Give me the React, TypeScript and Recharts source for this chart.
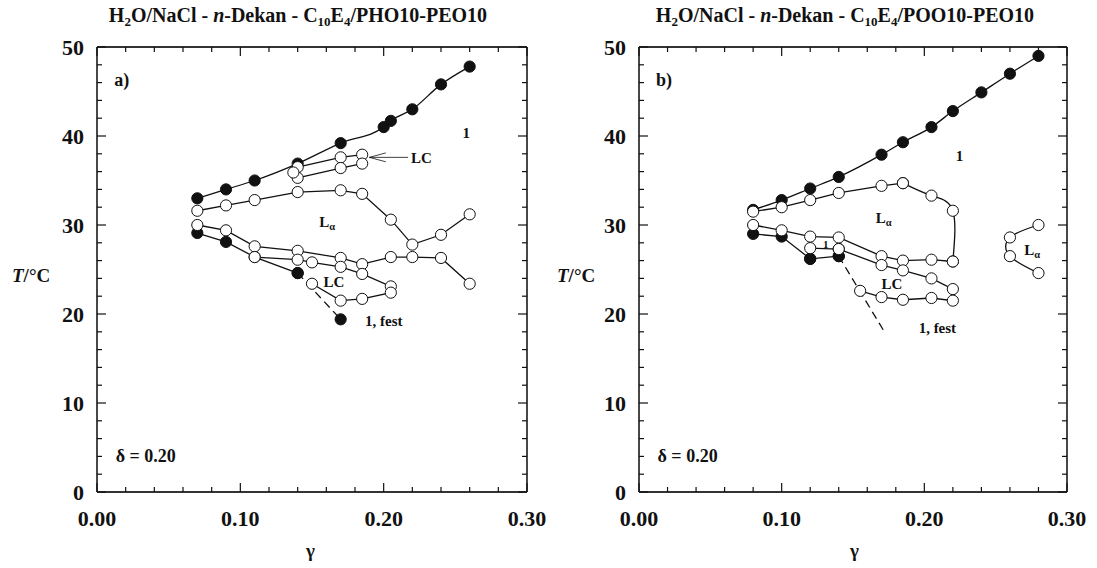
import React from "react";
import { ComposedChart, Line, Scatter, XAxis, YAxis } from "recharts";

const INK = "#111";
const FONT = '"Liberation Serif", "Times New Roman", serif';

const xTicks = [0, 0.02, 0.04, 0.06, 0.08, 0.1, 0.12, 0.14, 0.16, 0.18, 0.2, 0.22, 0.24, 0.26, 0.28, 0.3];
const yTicks = [0, 2, 4, 6, 8, 10, 12, 14, 16, 18, 20, 22, 24, 26, 28, 30, 32, 34, 36, 38, 40, 42, 44, 46, 48, 50];

// point = [gamma, T, marker]  marker: 1 filled, 0 open, -1 none
type P = [number, number, number];

// ---- panel a) PHO10-PEO10
const aOneBoundary: P[] = [
  [0.07, 33.0, 1], [0.09, 34.0, 1], [0.11, 35.0, 1], [0.14, 36.9, 1], [0.17, 39.2, 1],
  [0.2, 41.0, 1], [0.205, 41.7, 1], [0.22, 43.0, 1], [0.24, 45.8, 1], [0.26, 47.8, 1],
];
const aLcTop: P[] = [[0.14, 36.5, 0], [0.17, 37.6, 0], [0.185, 37.9, 0]];
const aLcBottom: P[] = [[0.14, 35.3, 0], [0.17, 36.4, 0], [0.185, 36.9, 0]];
const aLcExtra: P[] = [[0.137, 35.9, 0]];
const aLaTop: P[] = [
  [0.07, 31.6, 0], [0.09, 32.2, 0], [0.11, 32.8, 0], [0.14, 33.7, 0], [0.17, 33.9, 0],
  [0.185, 33.5, 0], [0.205, 30.6, 0], [0.22, 27.8, 0], [0.24, 28.9, 0], [0.26, 31.2, 0],
];
const aLaBottom: P[] = [
  [0.07, 30.0, 0], [0.09, 29.4, 0], [0.11, 27.6, 0], [0.14, 27.1, 0], [0.17, 26.3, 0],
  [0.185, 25.6, 0], [0.205, 26.4, 0], [0.22, 26.4, 0], [0.24, 26.3, 0], [0.26, 23.4, 0],
];
const aSolidLower: P[] = [[0.07, 29.1, 1], [0.09, 28.1, 1], [0.11, 26.4, 0], [0.14, 24.6, 1]];
const aLcLoop: P[] = [
  [0.11, 26.4, 0], [0.14, 26.1, 0], [0.15, 25.8, 0], [0.17, 25.3, 0], [0.185, 24.5, 0],
  [0.205, 23.1, 0], [0.205, 22.4, 0], [0.185, 21.7, 0], [0.17, 21.5, 0], [0.15, 23.4, 0],
];
const aFreeze: P[] = [[0.14, 24.6, 1], [0.17, 19.4, 1]];
const aArrowShaft: P[] = [[0.19, 37.6, -1], [0.217, 37.6, -1]];
const aArrowHead: P[] = [[0.2015, 38.1, -1], [0.19, 37.6, -1], [0.2015, 37.1, -1]];
const aLabels: [number, number, string][] = [
  [0.012, 46.3, "a)"], [0.255, 40.3, "1"], [0.219, 37.5, "LC"], [0.155, 30.3, "Lα"],
  [0.158, 23.6, "LC"], [0.187, 19.2, "1, fest"], [0.013, 4.0, "δ = 0.20"],
];

// ---- panel b) POO10-PEO10
const bOneBoundary: P[] = [
  [0.08, 31.7, 1], [0.1, 32.8, 1], [0.12, 34.1, 1], [0.14, 35.4, 1], [0.17, 37.9, 1], [0.185, 39.3, 1],
  [0.205, 41.0, 1], [0.22, 42.8, 1], [0.24, 44.9, 1], [0.26, 47.0, 1], [0.28, 49.0, 1],
];
const bLaTop: P[] = [
  [0.08, 31.5, 0], [0.1, 32.0, 0], [0.12, 32.8, 0], [0.14, 33.6, 0], [0.17, 34.4, 0], [0.185, 34.7, 0],
];
const bLaBulge: P[] = [[0.185, 34.7, 0], [0.205, 33.3, 0], [0.22, 31.6, 0], [0.22, 25.9, 0]];
const bLaBottom: P[] = [
  [0.22, 25.9, 0], [0.205, 26.1, 0], [0.185, 26.0, 0], [0.17, 26.5, 0], [0.14, 28.6, 0],
  [0.12, 28.7, 0], [0.1, 29.4, 0], [0.08, 30.0, 0],
];
const bSolidLower: P[] = [[0.08, 29.0, 1], [0.1, 28.7, 1], [0.12, 26.2, 1], [0.14, 26.5, 1]];
const bBox: P[] = [[0.12, 26.2, 1], [0.12, 27.4, 0], [0.14, 27.3, 0]];
const bLcLoop: P[] = [
  [0.14, 27.3, 0], [0.17, 25.5, 0], [0.185, 24.9, 0], [0.205, 24.0, 0], [0.22, 22.8, 0],
  [0.22, 21.5, 0], [0.205, 21.8, 0], [0.185, 21.6, 0], [0.17, 21.9, 0], [0.155, 22.6, 0],
];
const bFreeze: P[] = [[0.14, 26.5, 1], [0.172, 18.0, -1]];
const bIsland: P[] = [[0.28, 30.0, 0], [0.26, 28.6, 0], [0.26, 26.5, 0], [0.28, 24.6, 0]];
const bLabels: [number, number, string][] = [
  [0.012, 46.3, "b)"], [0.222, 37.8, "1"], [0.166, 30.8, "Lα"], [0.17, 23.4, "LC"],
  [0.196, 18.4, "1, fest"], [0.27, 27.2, "Lα"], [0.013, 4.0, "δ = 0.20"],
];
const bSmallLabels: [number, number, string][] = [[0.129, 27.9, "1"]];

type Curve = { pts: P[]; dashed?: boolean; thin?: boolean; kind?: "linear" | "monotone" | "natural" };

const curvesA: Curve[] = [
  { pts: aOneBoundary, kind: "monotone" },
  { pts: aLcTop },
  { pts: aLcBottom },
  { pts: aLcExtra },
  { pts: aLaTop },
  { pts: aLaBottom },
  { pts: aSolidLower },
  { pts: aLcLoop },
  { pts: aFreeze, dashed: true },
  { pts: aArrowShaft, thin: true },
  { pts: aArrowHead, thin: true },
];
const curvesB: Curve[] = [
  { pts: bOneBoundary, kind: "monotone" },
  { pts: bLaTop },
  { pts: bLaBulge, kind: "natural" },
  { pts: bLaBottom },
  { pts: bSolidLower },
  { pts: bBox },
  { pts: bLcLoop },
  { pts: bFreeze, dashed: true },
  { pts: bIsland, kind: "natural" },
];

const toRows = (pts: P[]) => pts.map(([g, T, m]) => ({ g, T, m }));

const tickText = { fontFamily: FONT, fontWeight: 700, fontSize: 22, fill: INK };

const isMajorX = (v: number) => Math.round(v * 100) % 10 === 0;
const isMajorY = (v: number) => Math.round(v) % 10 === 0;

const BottomTick = (p: any) => {
  const v = p.payload.value;
  const major = isMajorX(v);
  return (
    <g>
      <line x1={p.x} x2={p.x} y1={p.y} y2={p.y - (major ? 9 : 5)} stroke={INK} strokeWidth={1.2} />
      {major && (
        <text x={p.x} y={p.y + 34} textAnchor="middle" style={tickText}>
          {v.toFixed(2)}
        </text>
      )}
    </g>
  );
};
const TopTick = (p: any) => {
  const major = isMajorX(p.payload.value);
  return <line x1={p.x} x2={p.x} y1={p.y} y2={p.y + (major ? 9 : 5)} stroke={INK} strokeWidth={1.2} />;
};
const LeftTick = (p: any) => {
  const v = p.payload.value;
  const major = isMajorY(v);
  return (
    <g>
      <line x1={p.x} x2={p.x + (major ? 9 : 5)} y1={p.y} y2={p.y} stroke={INK} strokeWidth={1.2} />
      {major && (
        <text x={p.x - 13} y={p.y + 8} textAnchor="end" style={tickText}>
          {v}
        </text>
      )}
    </g>
  );
};
const RightTick = (p: any) => {
  const major = isMajorY(p.payload.value);
  return <line x1={p.x} x2={p.x - (major ? 9 : 5)} y1={p.y} y2={p.y} stroke={INK} strokeWidth={1.2} />;
};

const labelStyle = { fontFamily: FONT, fontWeight: 700, fill: INK };

const renderLabel = (size: number) => (p: any) => {
  const t: string = p.payload.text;
  const fs = t.endsWith(")") ? 18 : t.startsWith("δ") ? 18 : size;
  if (t === "Lα") {
    return (
      <text x={p.cx} y={p.cy} dominantBaseline="central" style={{ ...labelStyle, fontSize: fs }}>
        L<tspan dy={4} fontSize={fs * 0.7}>α</tspan>
      </text>
    );
  }
  return (
    <text x={p.cx} y={p.cy} dominantBaseline="central" style={{ ...labelStyle, fontSize: fs }}>
      {t}
    </text>
  );
};

const Marker = (fill: string) => (p: any) =>
  <circle cx={p.cx} cy={p.cy} r={5.6} fill={fill} stroke={INK} strokeWidth={1} />;

const axisLine = { stroke: "#333", strokeWidth: 1.8 };

function Panel({
  curves,
  labels,
  smallLabels = [],
  left,
  right,
}: {
  curves: Curve[];
  labels: [number, number, string][];
  smallLabels?: [number, number, string][];
  left: number;
  right: number;
}) {
  const all = curves.flatMap((c) => c.pts);
  const filled = toRows(all.filter((p) => p[2] === 1));
  const open = toRows(all.filter((p) => p[2] === 0));
  return (
    <ComposedChart width={548} height={568} margin={{ top: 46, right: right - 1, bottom: 75, left: left - 1 }}>
      <XAxis
        dataKey="g"
        type="number"
        domain={[0, 0.3]}
        ticks={xTicks}
        interval={0}
        allowDataOverflow
        height={1}
        tickSize={0}
        tickMargin={0}
        tickLine={false}
        axisLine={axisLine}
        tick={<BottomTick />}
      />
      <XAxis
        xAxisId="top"
        orientation="top"
        dataKey="g"
        type="number"
        domain={[0, 0.3]}
        ticks={xTicks}
        interval={0}
        allowDataOverflow
        height={1}
        tickSize={0}
        tickMargin={0}
        tickLine={false}
        axisLine={axisLine}
        tick={<TopTick />}
      />
      <YAxis
        dataKey="T"
        type="number"
        domain={[0, 50]}
        ticks={yTicks}
        interval={0}
        allowDataOverflow
        width={1}
        tickSize={0}
        tickMargin={0}
        tickLine={false}
        axisLine={axisLine}
        tick={<LeftTick />}
      />
      <YAxis
        yAxisId="right"
        orientation="right"
        dataKey="T"
        type="number"
        domain={[0, 50]}
        ticks={yTicks}
        interval={0}
        allowDataOverflow
        width={1}
        tickSize={0}
        tickMargin={0}
        tickLine={false}
        axisLine={axisLine}
        tick={<RightTick />}
      />
      {curves.map((c, i) => (
        <Line
          key={i}
          data={toRows(c.pts)}
          dataKey="T"
          type={c.kind ?? "linear"}
          stroke={INK}
          strokeWidth={c.thin ? 0.8 : 1.3}
          strokeDasharray={c.dashed ? "8 5" : undefined}
          dot={false}
          activeDot={false}
          isAnimationActive={false}
        />
      ))}
      <Scatter data={filled} dataKey="T" shape={Marker(INK)} isAnimationActive={false} />
      <Scatter data={open} dataKey="T" shape={Marker("#fff")} isAnimationActive={false} />
      <Scatter
        data={labels.map(([g, T, text]) => ({ g, T, text }))}
        dataKey="T"
        shape={renderLabel(15)}
        isAnimationActive={false}
      />
      <Scatter
        data={smallLabels.map(([g, T, text]) => ({ g, T, text }))}
        dataKey="T"
        shape={renderLabel(11)}
        isAnimationActive={false}
      />
    </ComposedChart>
  );
}

const titleStyle: React.CSSProperties = {
  position: "absolute",
  top: 4,
  width: 460,
  textAlign: "center",
  fontSize: 20,
  fontWeight: 700,
  whiteSpace: "nowrap",
};
const subStyle: React.CSSProperties = { fontSize: 13, verticalAlign: "-4px", lineHeight: 0 };
const axisTitle: React.CSSProperties = { position: "absolute", fontSize: 19, fontWeight: 700 };

export default function App() {
  return (
    <div
      style={{
        position: "absolute",
        left: 0,
        top: 0,
        width: 1097,
        height: 568,
        background: "#fff",
        fontFamily: FONT,
        color: INK,
        overflow: "hidden",
      }}
    >
      <div style={{ position: "absolute", left: 0, top: 0 }}>
        <Panel curves={curvesA} labels={aLabels} left={97} right={21} />
      </div>
      <div style={{ position: "absolute", left: 548, top: 0 }}>
        <Panel curves={curvesB} labels={bLabels} smallLabels={bSmallLabels} left={91} right={29} />
      </div>
      <div style={{ ...titleStyle, left: 68 }}>
        H<span style={subStyle}>2</span>O/NaCl - <i>n</i>-Dekan - C<span style={subStyle}>10</span>E
        <span style={subStyle}>4</span>/PHO10-PEO10
      </div>
      <div style={{ ...titleStyle, left: 615 }}>
        H<span style={subStyle}>2</span>O/NaCl - <i>n</i>-Dekan - C<span style={subStyle}>10</span>E
        <span style={subStyle}>4</span>/POO10-PEO10
      </div>
      <div style={{ ...axisTitle, left: 12, top: 265 }}>
        <i>T</i>/°C
      </div>
      <div style={{ ...axisTitle, left: 557, top: 265 }}>
        <i>T</i>/°C
      </div>
      <div style={{ ...axisTitle, left: 306, top: 540 }}>γ</div>
      <div style={{ ...axisTitle, left: 850, top: 540 }}>γ</div>
    </div>
  );
}
